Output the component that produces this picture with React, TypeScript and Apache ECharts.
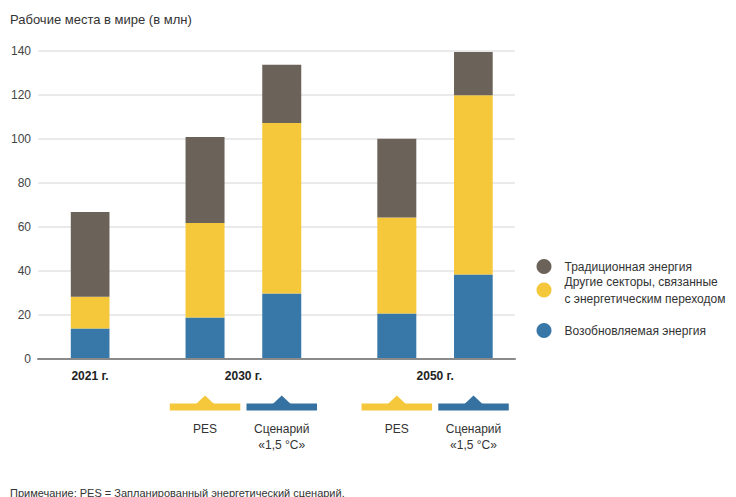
import React, { useEffect, useRef } from "react";
import * as echarts from "echarts";

const FONT = "Liberation Sans, Arial, sans-serif";

// x-axis slots (categories); bars occupy some of them, year labels sit on others
const slotCount = 11;
const barSlots = [0, 3, 5, 8, 10];
const renewable = [13.7, 18.7, 29.6, 20.5, 38.3];
const otherTransition = [14.4, 43.0, 77.6, 43.7, 81.5];
const traditional = [38.6, 39.1, 26.5, 35.9, 19.7];

const yearLabelSlots = [0, 4, 9];
const yearLabels = ["2021 г.", "2030 г.", "2050 г."];

const scenarioSlots = [3, 5, 8, 10];
const scenarioNames = ["PES", "Сценарий\n«1,5 °C»", "PES", "Сценарий\n«1,5 °C»"];

const yTicks = { min: 0, max: 140, interval: 20 };

const seriesNames = [
  "Возобновляемая энергия",
  "Другие секторы, связанные\nс энергетическим переходом",
  "Традиционная энергия",
];

const COLORS = {
  grey: "#6b6259",
  yellow: "#f5c73a",
  blue: "#3878a8",
  blueMarker: "#3572a1",
};

const scenarioColors = [COLORS.yellow, COLORS.blueMarker, COLORS.yellow, COLORS.blueMarker];

export default function App() {
  const ref = useRef<HTMLDivElement>(null);

  useEffect(() => {
    if (!ref.current) return;
    const chart = echarts.init(ref.current, undefined, { renderer: "svg" });

    const slotCategories = Array.from({ length: slotCount }, (_, i) => {
      const k = yearLabelSlots.indexOf(i);
      return k >= 0 ? yearLabels[k] : "";
    });
    const toData = (vals: number[]) => {
      const arr: (number | null)[] = Array(slotCount).fill(null);
      barSlots.forEach((s, i) => (arr[s] = vals[i]));
      return arr;
    };

    const legendBase = {
      orient: "vertical",
      left: 536.5,
      padding: 0,
      itemWidth: 15,
      itemHeight: 15,
      icon: "circle",
      selectedMode: false,
      textStyle: {
        fontFamily: FONT,
        fontSize: 12,
        color: "#333",
        lineHeight: 17,
        padding: [0, 0, 0, 8],
      },
    };

    const option: any = {
      animation: false,
      textStyle: { fontFamily: FONT },
      title: {
        text: "Рабочие места в мире (в млн)",
        left: 10,
        top: 13,
        padding: 0,
        textStyle: { fontFamily: FONT, fontSize: 13, fontWeight: "normal", color: "#333" },
      },
      legend: [
        { ...legendBase, top: 258, data: [seriesNames[2]] },
        {
          ...legendBase,
          top: 264.5,
          data: [seriesNames[1]],
          textStyle: { ...legendBase.textStyle, padding: [17, 0, 0, 8] },
        },
        { ...legendBase, top: 322, data: [seriesNames[0]] },
      ],
      grid: [
        { left: 38, right: 221, top: 51, bottom: 138.5, containLabel: false },
        { left: 70.8, right: 243.3, top: 51, bottom: 138.5, containLabel: false },
      ],
      xAxis: [
        {
          gridIndex: 0,
          type: "value",
          min: 0,
          max: 1,
          axisLine: { show: true, onZero: false, lineStyle: { color: "#8a8a8a", width: 2 } },
          axisTick: { show: false },
          splitLine: { show: false },
          axisLabel: { show: false },
          z: 5,
        },
        {
          gridIndex: 1,
          type: "category",
          data: slotCategories,
          axisLine: { show: false },
          axisTick: { show: false },
          splitLine: { show: false },
          axisLabel: {
            interval: 0,
            fontFamily: FONT,
            fontWeight: "bold",
            fontSize: 12,
            color: "#222",
            margin: 11,
          },
        },
      ],
      yAxis: [
        {
          gridIndex: 0,
          type: "value",
          min: yTicks.min,
          max: yTicks.max,
          interval: yTicks.interval,
          axisLine: { show: false },
          axisTick: { show: false },
          axisLabel: { fontFamily: FONT, fontSize: 12, color: "#444", margin: 7 },
          splitLine: { lineStyle: { color: "#e3e3e3", width: 1.5 } },
        },
        {
          gridIndex: 1,
          type: "value",
          min: yTicks.min,
          max: yTicks.max,
          interval: yTicks.interval,
          axisLine: { show: false },
          axisTick: { show: false },
          axisLabel: { show: false },
          splitLine: { show: false },
        },
      ],
      series: [
        {
          name: seriesNames[0],
          type: "bar",
          xAxisIndex: 1,
          yAxisIndex: 1,
          stack: "total",
          barWidth: 39,
          itemStyle: { color: COLORS.blue },
          data: toData(renewable),
        },
        {
          name: seriesNames[1],
          type: "bar",
          xAxisIndex: 1,
          yAxisIndex: 1,
          stack: "total",
          barWidth: 39,
          itemStyle: { color: COLORS.yellow },
          data: toData(otherTransition),
        },
        {
          name: seriesNames[2],
          type: "bar",
          xAxisIndex: 1,
          yAxisIndex: 1,
          stack: "total",
          barWidth: 39,
          itemStyle: { color: COLORS.grey },
          data: toData(traditional),
        },
      ],
    };

    chart.setOption(option);

    const xs = scenarioSlots.map(
      (s) => chart.convertToPixel({ xAxisIndex: 1 } as any, s) as number
    );
    const graphics: any[] = [];
    xs.forEach((cx, i) => {
      const color = scenarioColors[i];
      graphics.push({
        type: "rect",
        id: "mrect" + i,
        shape: { x: cx - 35.25, y: 403.5, width: 70.5, height: 7 },
        style: { fill: color },
      });
      graphics.push({
        type: "polygon",
        id: "mtri" + i,
        shape: { points: [[cx - 9, 404], [cx, 395.5], [cx + 9, 404]] },
        style: { fill: color },
      });
      graphics.push({
        type: "text",
        id: "mtext" + i,
        x: cx,
        y: 421,
        style: {
          text: scenarioNames[i],
          textAlign: "center",
          textVerticalAlign: "top",
          fontFamily: FONT,
          fontSize: 12,
          lineHeight: 16,
          fill: "#333",
        },
      });
    });
    graphics.push({
      type: "text",
      id: "note",
      x: 10,
      y: 487,
      style: {
        text: "Примечание: PES = Запланированный энергетический сценарий.",
        fontFamily: FONT,
        fontSize: 11,
        fill: "#333",
        textVerticalAlign: "top",
      },
    });
    chart.setOption({ graphic: graphics });

    return () => chart.dispose();
  }, []);

  return (
    <div
      ref={ref}
      style={{ position: "fixed", left: 0, top: 0, width: 736, height: 497, background: "#fff" }}
    />
  );
}
